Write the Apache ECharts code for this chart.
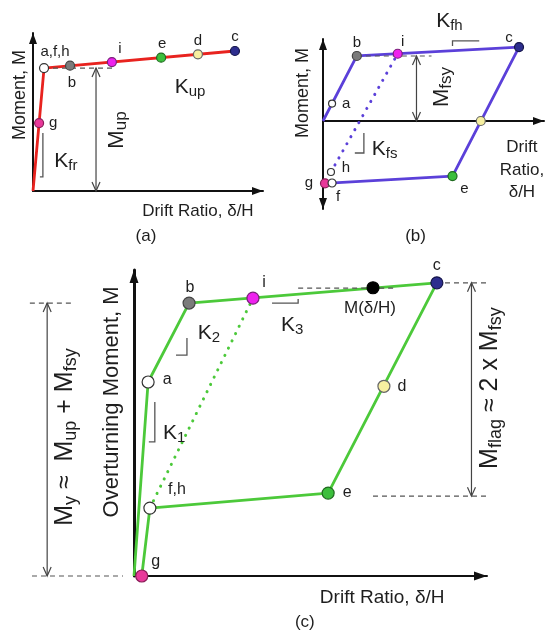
<!DOCTYPE html>
<html><head><meta charset="utf-8"><title>Flag-shaped hysteresis model</title>
<script src="https://cdn.jsdelivr.net/npm/echarts@6/dist/echarts.min.js"></script>
<style>html,body{margin:0;padding:0;background:#fff;}#chart{width:545px;height:634px;}</style>
</head><body><div id="chart"></div>
<script>
// ===== Panel (a): post-tensioning backbone =====
const aPathDrift  = [0, 0.48, 8.78];
const aPathMoment = [0, 7.78, 8.86];
const aPtNames  = ['g', 'a,f,h', 'b', 'i', 'e', 'd', 'c'];
const aPtDrift  = [0.265, 0.48, 1.61, 3.43, 5.57, 7.17, 8.78];
const aPtMoment = [4.30, 7.78, 7.93, 8.16, 8.44, 8.65, 8.86];
const aDashes   = [[[0.87, 7.78], [3.48, 7.78]]];
const aDims     = [[2.74, 0, 7.78]];
const aBrackets = [[[0.43, 3.67], [0.43, 0.89], [0.30, 0.89]]];
const aTexts = [
  ['Moment, M', -0.57, 6.08, 90, 'axisY'],
  ['Drift Ratio, δ/H', 7.17, -1.27, 0, 'axis'],
  ['{m|K}{s|up}', 6.83, 6.58, 0, 'k'],
  ['{m|M}{s|up}', 3.65, 3.86, 90, 'm'],
  ['{m|K}{s|fr}', 1.43, 1.90, 0, 'k'],
  ['(a)', 4.91, -2.85, 0, 'cap']
];

// ===== Panel (b): energy-dissipating (fuse) loop =====
const bPathDrift  = [0, 1.53, 8.87, 5.86, 0.09];
const bPathMoment = [0, 7.93, 9.02, -6.71, -7.60];
const bUnloadDrift  = [0.36, 3.38];
const bUnloadMoment = [-6.22, 8.20];
const bPtNames  = ['a', 'b', 'i', 'c', 'd', 'e', 'g', 'f', 'h'];
const bPtDrift  = [0.41, 1.53, 3.38, 8.87, 7.14, 5.86, 0.09, 0.41, 0.36];
const bPtMoment = [2.12, 7.93, 8.20, 9.02, 0, -6.71, -7.60, -7.56, -6.22];
const bDashes   = [[[1.53, 7.93], [4.91, 7.93]]];
const bDims     = [[4.23, 0, 7.93]];
const bBrackets = [
  [[5.86, 9.15], [5.86, 9.76], [7.07, 9.76]],
  [[1.85, -1.46], [1.85, -3.90], [1.44, -3.90]]
];
const bTexts = [
  ['Moment, M', -0.90, 3.41, 90, 'axisY'],
  ['Drift\nRatio,\nδ/H', 9.0, -5.98, 0, 'axisML'],
  ['{m|K}{s|fh}', 5.72, 12.2, 0, 'k'],
  ['{m|K}{s|fs}', 2.79, -3.41, 0, 'k'],
  ['{m|M}{s|fsy}', 5.36, 4.15, 90, 'm'],
  ['(b)', 4.19, -14.0, 0, 'cap']
];

// ===== Panel (c): combined flag-shaped response =====
const cPathDrift  = [0, 0.40, 1.56, 8.58, 5.50, 0.45, 0.22];
const cPathMoment = [0, 6.34, 8.92, 9.58, 2.71, 2.22, 0];
const cUnloadDrift  = [0.45, 3.37];
const cUnloadMoment = [2.22, 9.08];
const cPtNames  = ['g', 'f,h', 'a', 'b', 'i', 'M(δ/H)', 'c', 'd', 'e'];
const cPtDrift  = [0.22, 0.45, 0.40, 1.56, 3.37, 6.77, 8.58, 7.08, 5.50];
const cPtMoment = [0, 2.22, 6.34, 8.92, 9.08, 9.42, 9.58, 6.20, 2.71];
const cDashes = [
  [[-2.95, 8.92], [-1.73, 8.92]],
  [[-2.89, 0], [-0.31, 0]],
  [[8.81, 9.58], [10.08, 9.58]],
  [[6.77, 2.61], [10.03, 2.61]],
  [[4.65, 9.41], [7.34, 9.41]]
];
const cDims = [[-2.46, 0, 8.92], [9.56, 2.61, 9.58]];
const cBrackets = [
  [[0.59, 5.69], [0.59, 4.38], [0.42, 4.38]],
  [[1.50, 7.78], [1.50, 7.22], [1.19, 7.22]],
  [[3.91, 8.92], [4.65, 8.92], [4.65, 9.05]]
];
const cTexts = [
  ['Overturning Moment, M', -0.62, 5.69, 90, 'axC'],
  ['Drift Ratio, δ/H', 7.03, -0.72, 0, 'axC2'],
  ['{m|M}{s|y}{m| ≈  M}{s|up}{m| + M}{s|fsy}', -1.95, 4.54, 90, 'big'],
  ['{m|M}{s|flag}{m| ≈ 2 x M}{s|fsy}', 10.08, 6.14, 90, 'big'],
  ['{m|K}{s|1}', 1.14, 4.67, 0, 'kc'],
  ['{m|K}{s|2}', 2.12, 7.94, 0, 'kc'],
  ['{m|K}{s|3}', 4.48, 8.20, 0, 'kc'],
  ['(c)', 4.84, -1.50, 0, 'cap']
];

// ===== styles =====
const FONT = '"Liberation Sans", Arial, sans-serif';
const INK = '#1e1e1e';
const TXT = {
  axis:   {F: 17, S: 12},
  axisY:  {F: 18, S: 12},
  axisML: {F: 17, S: 12, LH: 22.5},
  axC:    {F: 22, S: 14},
  axC2:   {F: 19, S: 13},
  k:      {F: 21, S: 15},
  kc:     {F: 21, S: 15},
  m:      {F: 22, S: 17},
  big:    {F: 25, S: 18},
  cap:    {F: 17, S: 12}
};
const PT = {
  white:  {color: '#ffffff', borderColor: '#333'},
  gray:   {color: '#7b7b7b', borderColor: '#444'},
  magenta:{color: '#ee22ee', borderColor: '#7a207a'},
  green:  {color: '#3cbf3c', borderColor: '#1f6a1f'},
  yellow: {color: '#f7f0a0', borderColor: '#666'},
  navy:   {color: '#2d2e8e', borderColor: '#15154a'},
  pink:   {color: '#e8389a', borderColor: '#8a1d58'},
  black:  {color: '#000000', borderColor: '#000'}
};
const aColor = {'g':'pink','a,f,h':'white','b':'gray','i':'magenta','e':'green','d':'yellow','c':'navy'};
const aOff = {'g':[14,0],'a,f,h':[11,-16],'b':[2,17],'i':[8,-13],'e':[1,-14],'d':[0,-13],'c':[0,-14]};
const bColor = {'a':'white','b':'gray','i':'magenta','c':'navy','d':'yellow','e':'green','g':'pink','f':'white','h':'white'};
const bOff = {'a':[14,0],'b':[0,-13],'i':[5,-12],'c':[-10,-9],'d':null,'e':[12,13],'g':[-16,0],'f':[6,14],'h':[15,-4]};
const bSize = {'a':7,'f':8,'h':7};
const cColor = {'g':'pink','f,h':'white','a':'white','b':'gray','i':'magenta','M(δ/H)':'black','c':'navy','d':'yellow','e':'green'};
const cOff = {'g':[14,-14],'f,h':[27,-18],'a':[19,-2],'b':[1,-15],'i':[11,-16],'M(δ/H)':[-3,21],'c':[0,-17],'d':[18,0],'e':[19,0]};

const pairs = (xs, ys) => xs.map((x, i) => [x, ys[i]]);

function axes(gi, yMin, yMax, both, yW, arrow) {
  const half = arrow[1] / 2;
  const common = {gridIndex: gi, type: 'value', axisTick: {show: false}, axisLabel: {show: false}, splitLine: {show: false}};
  const x = Object.assign({}, common, {min: 0, max: 10,
    axisLine: {show: true, onZero: true, symbol: ['none', 'triangle'], symbolSize: arrow, symbolOffset: [0, -half],
      lineStyle: {color: '#111', width: 2}}});
  const y = Object.assign({}, common, {min: yMin, max: yMax,
    axisLine: {show: true, onZero: true, symbol: [both ? 'triangle' : 'none', 'triangle'], symbolSize: arrow,
      symbolOffset: [both ? half : 0, -half], lineStyle: {color: '#111', width: yW}}});
  return [x, y];
}

function textEl(p, str, rotDeg, key) {
  const f = TXT[key];
  // subscript sits with its baseline slightly below the main baseline
  const off = 0.35 * (f.F - f.S) + 2;
  return {type: 'text', x: p[0], y: p[1], rotation: rotDeg * Math.PI / 180,
    style: {text: str, fontSize: f.F, fontFamily: FONT, fill: INK, align: 'center', verticalAlign: 'middle',
      lineHeight: f.LH || f.F * 1.2,
      rich: {
        m: {fontSize: f.F, fontFamily: FONT, fill: INK, lineHeight: 2 * off + f.S},
        s: {fontSize: f.S, fontFamily: FONT, fill: INK, verticalAlign: 'bottom'}
      }}};
}
function vHead(tip, from) {
  const dx = tip[0] - from[0], dy = tip[1] - from[1];
  const len = Math.hypot(dx, dy) || 1, ux = dx / len, uy = dy / len, L = 9, W = 4;
  return {type: 'polyline', shape: {points: [[tip[0] - ux * L - uy * W, tip[1] - uy * L + ux * W], tip,
    [tip[0] - ux * L + uy * W, tip[1] - uy * L - ux * W]]}, style: {stroke: '#444', lineWidth: 1.2, fill: null}};
}
function annotSeries(gi, dashes, dims, brackets, texts) {
  return {type: 'custom', xAxisIndex: gi, yAxisIndex: gi, data: [[0, 0]], silent: true, z: 3, clip: false,
    renderItem: function (params, api) {
      const C = p => api.coord(p);
      const ch = [];
      dashes.forEach(seg => ch.push({type: 'polyline', shape: {points: seg.map(C)},
        style: {stroke: '#555', lineWidth: 1.2, lineDash: [5, 4], fill: null}}));
      brackets.forEach(seg => ch.push({type: 'polyline', shape: {points: seg.map(C)},
        style: {stroke: '#555', lineWidth: 1.3, fill: null}}));
      dims.forEach(d => {
        const p0 = C([d[0], d[1]]), p1 = C([d[0], d[2]]);
        ch.push({type: 'line', shape: {x1: p0[0], y1: p0[1], x2: p1[0], y2: p1[1]}, style: {stroke: '#444', lineWidth: 1.2}});
        ch.push(vHead(p0, p1));
        ch.push(vHead(p1, p0));
      });
      texts.forEach(t => ch.push(textEl(C([t[1], t[2]]), t[0], t[3], t[4])));
      return {type: 'group', children: ch};
    }};
}
function lineSeries(gi, xs, ys, color, dotted) {
  return {type: 'line', xAxisIndex: gi, yAxisIndex: gi, data: pairs(xs, ys), symbol: 'none', clip: false, z: 2,
    silent: true, lineStyle: dotted ? {color: color, width: 3, type: [0.1, 8], cap: 'round'} : {color: color, width: 2.8}};
}
function pointSeries(gi, names, xs, ys, colMap, offMap, size, sizeMap, fontSize) {
  return {type: 'scatter', xAxisIndex: gi, yAxisIndex: gi, clip: false, z: 5, silent: true,
    data: names.map((n, i) => {
      const st = PT[colMap[n]];
      return {name: n, value: [xs[i], ys[i]], symbolSize: (sizeMap && sizeMap[n]) || size,
        itemStyle: {color: st.color, borderColor: st.borderColor, borderWidth: 1.2, opacity: 1},
        label: offMap[n] ? {show: true, offset: offMap[n], fontSize: n.length > 5 ? 17 : fontSize} : {show: false}};
    }),
    label: {show: true, position: 'inside', formatter: '{b}', color: INK, fontSize: fontSize, fontFamily: FONT}};
}

const [ax0, ay0] = axes(0, 0, 10, false, 2, [8, 11]);
const [ax1, ay1] = axes(1, -10.73, 10, true, 2, [8, 11]);
const [ax2, ay2] = axes(2, 0, 10, false, 3, [9, 13]);

const chart = echarts.init(document.getElementById('chart'), null, {renderer: 'canvas', width: 545, height: 634});
chart.setOption({
  animation: false,
  backgroundColor: '#ffffff',
  grid: [
    {left: 33, top: 33, width: 230, height: 158},
    {left: 323, top: 39, width: 221, height: 170},
    {left: 134, top: 270, width: 353, height: 306}
  ],
  xAxis: [ax0, ax1, ax2],
  yAxis: [ay0, ay1, ay2],
  series: [
    lineSeries(0, aPathDrift, aPathMoment, '#e8231f', false),
    annotSeries(0, aDashes, aDims, aBrackets, aTexts),
    pointSeries(0, aPtNames, aPtDrift, aPtMoment, aColor, aOff, 9, null, 15),

    lineSeries(1, bPathDrift, bPathMoment, '#5b40d9', false),
    lineSeries(1, bUnloadDrift, bUnloadMoment, '#5b40d9', true),
    annotSeries(1, bDashes, bDims, bBrackets, bTexts),
    pointSeries(1, bPtNames, bPtDrift, bPtMoment, bColor, bOff, 9, bSize, 15),

    lineSeries(2, cPathDrift, cPathMoment, '#4cc93a', false),
    lineSeries(2, cUnloadDrift, cUnloadMoment, '#4cc93a', true),
    annotSeries(2, cDashes, cDims, cBrackets, cTexts),
    pointSeries(2, cPtNames, cPtDrift, cPtMoment, cColor, cOff, 12, null, 16)
  ]
});
</script></body></html>
